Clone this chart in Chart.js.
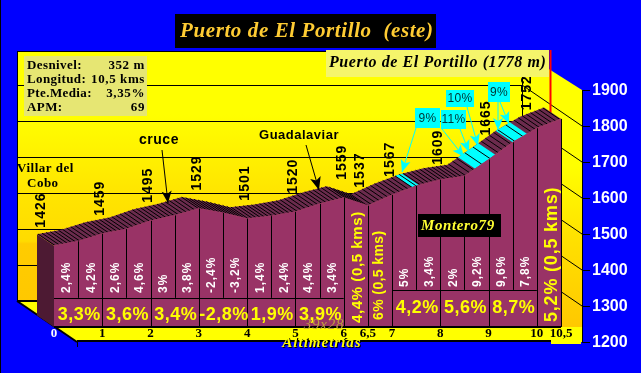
<!DOCTYPE html>
<html>
<head>
<meta charset="utf-8">
<title>Puerto de El Portillo (este)</title>
<script src="https://cdn.jsdelivr.net/npm/chart.js@4"></script>
<style>
  html, body { margin: 0; padding: 0; background: #0000ff; overflow: hidden; }
  canvas { display: block; }
</style>
</head>
<body>
<canvas id="profile" width="641" height="373"></canvas>
<script>
// km and altitude every half kilometre
const kms = [0, 0.5, 1, 1.5, 2, 2.5, 3, 3.5, 4, 4.5, 5, 5.5, 6, 6.5, 7, 7.5, 8, 8.5, 9, 9.5, 10, 10.5];
const altitudes = [1426, 1438, 1459, 1472, 1495, 1510, 1529, 1517, 1501, 1508, 1520, 1542, 1559, 1537, 1567, 1592, 1609, 1619, 1665, 1713, 1752, 1778];

// rotated altitude labels above the profile
const labelKms = [0, 1, 2, 3, 4, 5, 6, 6.5, 7, 8, 9, 10];
const labelAltitudes = [1426, 1459, 1495, 1529, 1501, 1520, 1559, 1537, 1567, 1609, 1665, 1752];

// slope of each half km
const halfKms = [0.25, 0.75, 1.25, 1.75, 2.25, 2.75, 3.25, 3.75, 4.25, 4.75, 5.25, 5.75, 7.25, 7.75, 8.25, 8.75, 9.25, 9.75];
const halfSlopes = ["2,4%", "4,2%", "2,6%", "4,6%", "3%", "3,8%", "-2,4%", "-3,2%", "1,4%", "2,4%", "4,4%", "3,4%", "5%", "3,4%", "2%", "9,2%", "9,6%", "7,8%"];

// slope of each whole km
const wholeKms = [0.5, 1.5, 2.5, 3.5, 4.5, 5.5, 7.5, 8.5, 9.5];
const wholeSlopes = ["3,3%", "3,6%", "3,4%", "-2,8%", "1,9%", "3,9%", "4,2%", "5,6%", "8,7%"];

// the three tall half km labels
const longKms = [6.25, 6.75, 10.25];
const longLabels = ["4,4% (0,5 kms)", "6% (0,5 kms)", "5,2% (0,5 kms)"];

const xTicks = [0, 1, 2, 3, 4, 5, 6, 6.5, 7, 8, 9, 10, 10.5];
const yTicks = [1200, 1300, 1400, 1500, 1600, 1700, 1800, 1900];

// stretches of the climb painted cyan
const steepFrom = [7.42, 8.72, 9.5];
const steepTo = [7.56, 9.14, 9.8];

const infoNames = ["Desnivel:", "Longitud:", "Pte.Media:", "APM:"];
const infoValues = ["352 m", "10,5 kms", "3,35%", "69"];

// layout of the fake 3D box
const AREA_LEFT = 17, AREA_RIGHT = 582, AREA_TOP = 90, AREA_BOTTOM = 342;
const KM_LEFT = 54, KM_RIGHT = 561;
const WALL_DX = 60, WALL_DY = 41;
const BAND_DX = 17, BAND_DY = 11.5;
const FRONT_LIFT = 15;

const pxPerKm = (KM_RIGHT - KM_LEFT) / 10.5;
const pxPerM = (AREA_BOTTOM - AREA_TOP) / 700;
const liftM = FRONT_LIFT / pxPerM;

function poly(ctx, pts, fill, stroke, lw) {
  ctx.beginPath();
  pts.forEach((p, i) => i ? ctx.lineTo(p[0], p[1]) : ctx.moveTo(p[0], p[1]));
  ctx.closePath();
  if (fill) { ctx.fillStyle = fill; ctx.fill(); }
  if (stroke) { ctx.strokeStyle = stroke; ctx.lineWidth = lw || 1; ctx.stroke(); }
}

function seg(ctx, x1, y1, x2, y2, color, lw) {
  ctx.beginPath();
  ctx.moveTo(x1, y1);
  ctx.lineTo(x2, y2);
  ctx.strokeStyle = color;
  ctx.lineWidth = lw || 1;
  ctx.stroke();
}

function text(ctx, str, x, y, font, color, align, spacing) {
  ctx.font = font;
  ctx.fillStyle = color;
  ctx.textAlign = align || "center";
  ctx.textBaseline = "middle";
  ctx.letterSpacing = spacing || "0px";
  ctx.fillText(str, x, y);
  ctx.letterSpacing = "0px";
}

function vtext(ctx, str, x, y, font, color, align, spacing) {
  ctx.save();
  ctx.translate(x, y);
  ctx.rotate(-Math.PI / 2);
  text(ctx, str, 0, 0, font, color, align, spacing);
  ctx.restore();
}

function arrow(ctx, x1, y1, x2, y2, color, head) {
  seg(ctx, x1, y1, x2, y2, color, 1);
  const a = Math.atan2(y2 - y1, x2 - x1);
  poly(ctx, [
    [x2, y2],
    [x2 - head * Math.cos(a - 0.4), y2 - head * Math.sin(a - 0.4)],
    [x2 - head * 0.7 * Math.cos(a), y2 - head * 0.7 * Math.sin(a)],
    [x2 - head * Math.cos(a + 0.4), y2 - head * Math.sin(a + 0.4)]
  ], color);
}

function altitudeAt(km) {
  let i = 0;
  while (i < kms.length - 2 && kms[i + 1] < km) i++;
  const t = (km - kms[i]) / (kms[i + 1] - kms[i]);
  return altitudes[i] + t * (altitudes[i + 1] - altitudes[i]);
}

const boxPlugin = {
  id: "box",
  beforeDraw(chart) {
    const ctx = chart.ctx, y = chart.scales.y, a = chart.chartArea;
    const backLeft = a.left, backRight = a.right - WALL_DX;
    const backTop = 52, backBottom = y.getPixelForValue(1200) - WALL_DY;

    ctx.save();
    const grad = ctx.createLinearGradient(0, backTop, 0, backBottom);
    grad.addColorStop(0, "#ffff00");
    grad.addColorStop(0.25, "#ffff00");
    grad.addColorStop(0.55, "#ffe600");
    grad.addColorStop(0.76, "#ffdb00");
    grad.addColorStop(0.77, "#ffcc00");
    grad.addColorStop(1, "#ffc800");

    // right wall
    const gradR = ctx.createLinearGradient(0, a.top, 0, a.bottom);
    gradR.addColorStop(0, "#ffff00");
    gradR.addColorStop(0.3, "#ffff00");
    gradR.addColorStop(0.6, "#ffe000");
    gradR.addColorStop(1, "#ffc400");
    poly(ctx, [[backRight, backTop], [a.right, a.top], [a.right, a.bottom], [backRight, backBottom]], gradR);

    // back wall
    poly(ctx, [[backLeft, backTop], [backRight, backTop], [backRight, backBottom], [backLeft, backBottom]], grad);

    // floor
    poly(ctx, [[backLeft, backBottom], [backRight, backBottom], [a.right, a.bottom], [backLeft + WALL_DX, a.bottom]], "#ffff00");

    // grid on both walls
    yTicks.forEach(v => {
      const py = y.getPixelForValue(v);
      if (v > 1200 && v < 1900) {
        seg(ctx, backLeft, py - WALL_DY + 0.5, backRight, py - WALL_DY + 0.5, "#000");
        seg(ctx, backRight, py - WALL_DY, a.right, py, "#000");
      }
    });
    ctx.fillStyle = "#ffff00";
    ctx.fillRect(KM_RIGHT, 327, a.right - KM_RIGHT, 15);
    seg(ctx, backLeft, backTop - 0.5, backRight, backTop - 0.5, "#000", 1);
    seg(ctx, backLeft + 0.5, backTop, backLeft + 0.5, backBottom, "#000", 1);
    seg(ctx, backRight + 0.5, backTop, backRight + 0.5, backBottom, "#000", 1);
    seg(ctx, backLeft, backBottom, backRight, backBottom, "#000", 2);
    seg(ctx, backLeft, backBottom, backLeft + WALL_DX, a.bottom, "#000", 2);
    seg(ctx, backLeft + WALL_DX, a.bottom - 1, 552, a.bottom - 1, "#000", 2);
    seg(ctx, backLeft + WALL_DX + 0.5, a.bottom, backLeft + WALL_DX + 0.5, a.bottom + 5, "#000", 1);
    seg(ctx, a.right + 0.5, a.top, a.right + 0.5, a.bottom, "#000", 1);

    // box behind the last tick label
    ctx.fillStyle = "#ffff00";
    ctx.fillRect(551, 333, 30, 11);

    // window edge
    seg(ctx, 0.5, 0, 0.5, 373, "#000", 1);
    ctx.restore();
  },
  beforeDatasetsDraw(chart) {
    const ctx = chart.ctx, x = chart.scales.x, f = chart.scales.yFront;
    const px = km => x.getPixelForValue(km);
    const py = m => f.getPixelForValue(m);
    const x0 = px(0), base = py(1200), top0 = py(altitudes[0]);

    ctx.save();
    // red line of the summit, behind the profile
    seg(ctx, 550.5, 50, 550.5, 118, "#ff0000", 2);

    // left side of the profile
    poly(ctx, [[x0, top0], [x0 - BAND_DX, top0 - BAND_DY], [x0 - BAND_DX, base - BAND_DY], [x0, base]], "#4d1a33");

    // top surface of the road
    const band = [];
    kms.forEach((k, i) => band.push([px(k), py(altitudes[i])]));
    for (let i = kms.length - 1; i >= 0; i--) band.push([px(kms[i]) - BAND_DX, py(altitudes[i]) - BAND_DY]);
    poly(ctx, band, "#6b2b4d");

    // cyan stretches
    steepFrom.forEach((from, i) => {
      const to = steepTo[i], pts = [];
      const stops = [from].concat(kms.filter(k => k > from && k < to), [to]);
      stops.forEach(k => pts.push([px(k), py(altitudeAt(k))]));
      stops.slice().reverse().forEach(k => pts.push([px(k) - BAND_DX, py(altitudeAt(k)) - BAND_DY]));
      poly(ctx, pts, "#00ffff");
    });

    // hatching across the surface
    for (let k = 0.02; k < 10.5; k += 0.085) {
      const sx = px(k), sy = py(altitudeAt(k));
      const steep = steepFrom.some((from, i) => k >= from && k <= steepTo[i]);
      if (steep && Math.round(k / 0.085) % 2) continue;
      seg(ctx, sx, sy, sx - BAND_DX, sy - BAND_DY, "#000", 1);
    }
    ctx.restore();
  },
  afterDatasetsDraw(chart) {
    const ctx = chart.ctx, x = chart.scales.x, f = chart.scales.yFront;
    const px = km => x.getPixelForValue(km);
    const py = m => f.getPixelForValue(m);
    const base = py(1200);
    const rowLeft = py(1281), rowRight = py(1303);

    ctx.save();
    // lines on the front face
    kms.forEach((k, i) => {
      if (k === 0 || k === 10.5) return;
      const whole = Number.isInteger(k) || k === 6.5;
      const half = !whole;
      const bottom = half ? (k < 6 ? rowLeft : rowRight) : base;
      const lx = Math.round(px(k)) + 0.5;
      seg(ctx, lx, py(altitudes[i]), lx, bottom, "#000", 1);
    });
    seg(ctx, px(0), Math.round(rowLeft) + 0.5, px(6), Math.round(rowLeft) + 0.5, "#000", 1);
    seg(ctx, px(7), Math.round(rowRight) + 0.5, px(10), Math.round(rowRight) + 0.5, "#000", 1);
    seg(ctx, px(0), base, px(10.5), base, "#000", 2);
    seg(ctx, px(10.5) + 0.5, py(altitudes[altitudes.length - 1]), px(10.5) + 0.5, base, "#000", 1);

    // slope labels
    halfKms.forEach((k, i) => {
      const bottom = k < 6 ? 293 : 287;
      vtext(ctx, halfSlopes[i], px(k) + 1, bottom, "bold 12px 'Liberation Sans'", "#ffffff", "left", "1px");
    });
    wholeKms.forEach((k, i) => {
      const cy = k < 6 ? 315 : 308;
      text(ctx, wholeSlopes[i], px(k) + 1, cy, "bold 18px 'Liberation Sans'", "#ffff00", "center", "0.5px");
    });
    vtext(ctx, longLabels[0], px(longKms[0]) + 2, 323, "bold 15px 'Liberation Sans'", "#ffff00", "left", "0.6px");
    vtext(ctx, longLabels[1], px(longKms[1]) - 1, 320, "bold 14px 'Liberation Sans'", "#ffff00", "left", "0.4px");
    vtext(ctx, longLabels[2], px(longKms[2]) + 3, 322, "bold 18px 'Liberation Sans'", "#ffff00", "left", "0.8px");

    // altitudes above the profile
    labelKms.forEach((k, i) => {
      const nudge = k === 0 ? -13 : k === 6.5 ? -8 : k === 10 ? -10 : -2;
      const lift = k === 9 ? 24 : k === 8 ? 15 : 18;
      vtext(ctx, String(labelAltitudes[i]), px(k) + nudge, py(labelAltitudes[i]) - lift, "bold 14px 'Liberation Sans'", "#000", "left", "1px");
    });

    // place names
    text(ctx, "Villar del", 17, 169, "bold 13px 'Liberation Serif'", "#000", "left", "0.5px");
    text(ctx, "Cobo", 27, 184, "bold 13px 'Liberation Serif'", "#000", "left", "0.5px");
    text(ctx, "cruce", 159, 140, "bold 14px 'Liberation Sans'", "#000", "center", "0.5px");
    text(ctx, "Guadalaviar", 299, 135, "bold 13px 'Liberation Sans'", "#000", "center", "0.5px");
    arrow(ctx, 162, 150, 168, 203, "#000", 13);
    arrow(ctx, 306, 145, 319, 190, "#000", 14);

    // info box
    ctx.fillStyle = "#e6e673";
    ctx.fillRect(24, 56, 123, 60);
    infoNames.forEach((name, i) => {
      const ty = 66 + i * 14;
      text(ctx, name, 27, ty, "bold 13px 'Liberation Serif'", "#000", "left", "0.4px");
      text(ctx, infoValues[i], 145, ty, "bold 13px 'Liberation Serif'", "#000", "right", "0.6px");
    });

    // summit label
    ctx.fillStyle = "#f5f56b";
    ctx.fillRect(326, 50, 223, 27);
    text(ctx, "Puerto de El Portillo (1778 m)", 329, 63, "italic bold 16px 'Liberation Serif'", "#000", "left", "0.6px");

    // title
    ctx.fillStyle = "#000";
    ctx.fillRect(175, 14, 261, 34);
    text(ctx, "Puerto de El Portillo  (este)", 180, 32, "italic bold 21px 'Liberation Serif'", "#ffcc33", "left", "0.6px");

    // signature
    ctx.fillStyle = "#000";
    ctx.fillRect(418, 214, 83, 23);
    text(ctx, "Montero79", 421, 226, "italic bold 15px 'Liberation Serif'", "#ffff33", "left", "0.6px");

    // steep slope callouts
    const cyan = "#00ffff";
    arrow(ctx, 416, 128, 402, 172, cyan, 13);
    arrow(ctx, 467, 107, 478, 146, cyan, 13);
    arrow(ctx, 442, 129, 464, 157, cyan, 13);
    arrow(ctx, 460, 129, 469, 152, cyan, 13);
    arrow(ctx, 498, 102, 498, 130, cyan, 13);
    arrow(ctx, 500, 102, 509, 124, cyan, 13);
    [[415, 108, 25, 20, "9%"], [446, 90, 28, 17, "10%"], [441, 110, 25, 19, "11%"], [488, 82, 22, 20, "9%"]].forEach(b => {
      ctx.fillStyle = cyan;
      ctx.fillRect(b[0], b[1], b[2], b[3]);
      text(ctx, b[4], b[0] + b[2] / 2, b[1] + b[3] / 2 + 0.5, "12px 'Liberation Sans'", "#003333", "center", "0.3px");
    });

    // axis caption, half lost under the floor
    text(ctx, "39x28", 324, 325, "italic 15px 'Liberation Serif'", "#c0a040", "center", "0.8px");
    ctx.shadowColor = "#000";
    ctx.shadowOffsetX = 1;
    ctx.shadowOffsetY = 1;
    text(ctx, "Altimetrías", 322, 343, "italic bold 15px 'Liberation Serif'", "#ffff00", "center", "1px");
    ctx.restore();
  }
};

const frontLine = kms.map((k, i) => ({ x: k, y: altitudes[i] }));

new Chart(document.getElementById("profile").getContext("2d"), {
  type: "line",
  data: {
    datasets: [{
      label: "Altitud",
      data: frontLine,
      yAxisID: "yFront",
      borderColor: "#993366",
      borderWidth: 1,
      backgroundColor: "#993366",
      pointRadius: 0,
      tension: 0,
      fill: { value: 1200 }
    }]
  },
  options: {
    responsive: false,
    animation: false,
    devicePixelRatio: 1,
    layout: { padding: { left: AREA_LEFT, top: AREA_TOP, right: 0, bottom: 0 } },
    plugins: { legend: { display: false }, tooltip: { enabled: false } },
    scales: {
      x: {
        type: "linear",
        min: -(KM_LEFT - AREA_LEFT) / pxPerKm,
        max: 10.5 + (AREA_RIGHT - KM_RIGHT) / pxPerKm,
        afterBuildTicks: axis => { axis.ticks = xTicks.map(v => ({ value: v })); },
        afterFit: axis => { axis.height = 373 - AREA_BOTTOM; },
        border: { display: false },
        grid: { display: false },
        ticks: {
          autoSkip: false,
          maxRotation: 0,
          mirror: true,
          padding: 1,
          font: { family: "'Liberation Serif'", size: 13, weight: "bold" },
          color: c => (c.tick.value === 0 ? "#ffffff" : "#000000"),
          callback: v => String(v).replace(".", ",")
        }
      },
      y: {
        position: "right",
        min: 1200,
        max: 1900,
        afterBuildTicks: axis => { axis.ticks = yTicks.map(v => ({ value: v })); },
        afterFit: axis => { axis.width = 641 - AREA_RIGHT; },
        border: { display: false },
        grid: { drawOnChartArea: false, drawTicks: true, tickLength: 8, color: "#000000" },
        ticks: {
          padding: 2,
          labelOffset: 1,
          font: { family: "'Liberation Sans'", size: 16, weight: "bold" },
          color: "#ffffff",
          callback: v => String(v)
        }
      },
      yFront: {
        display: false,
        min: 1200 - liftM,
        max: 1900 - liftM
      }
    }
  },
  plugins: [boxPlugin]
});
</script>
</body>
</html>
